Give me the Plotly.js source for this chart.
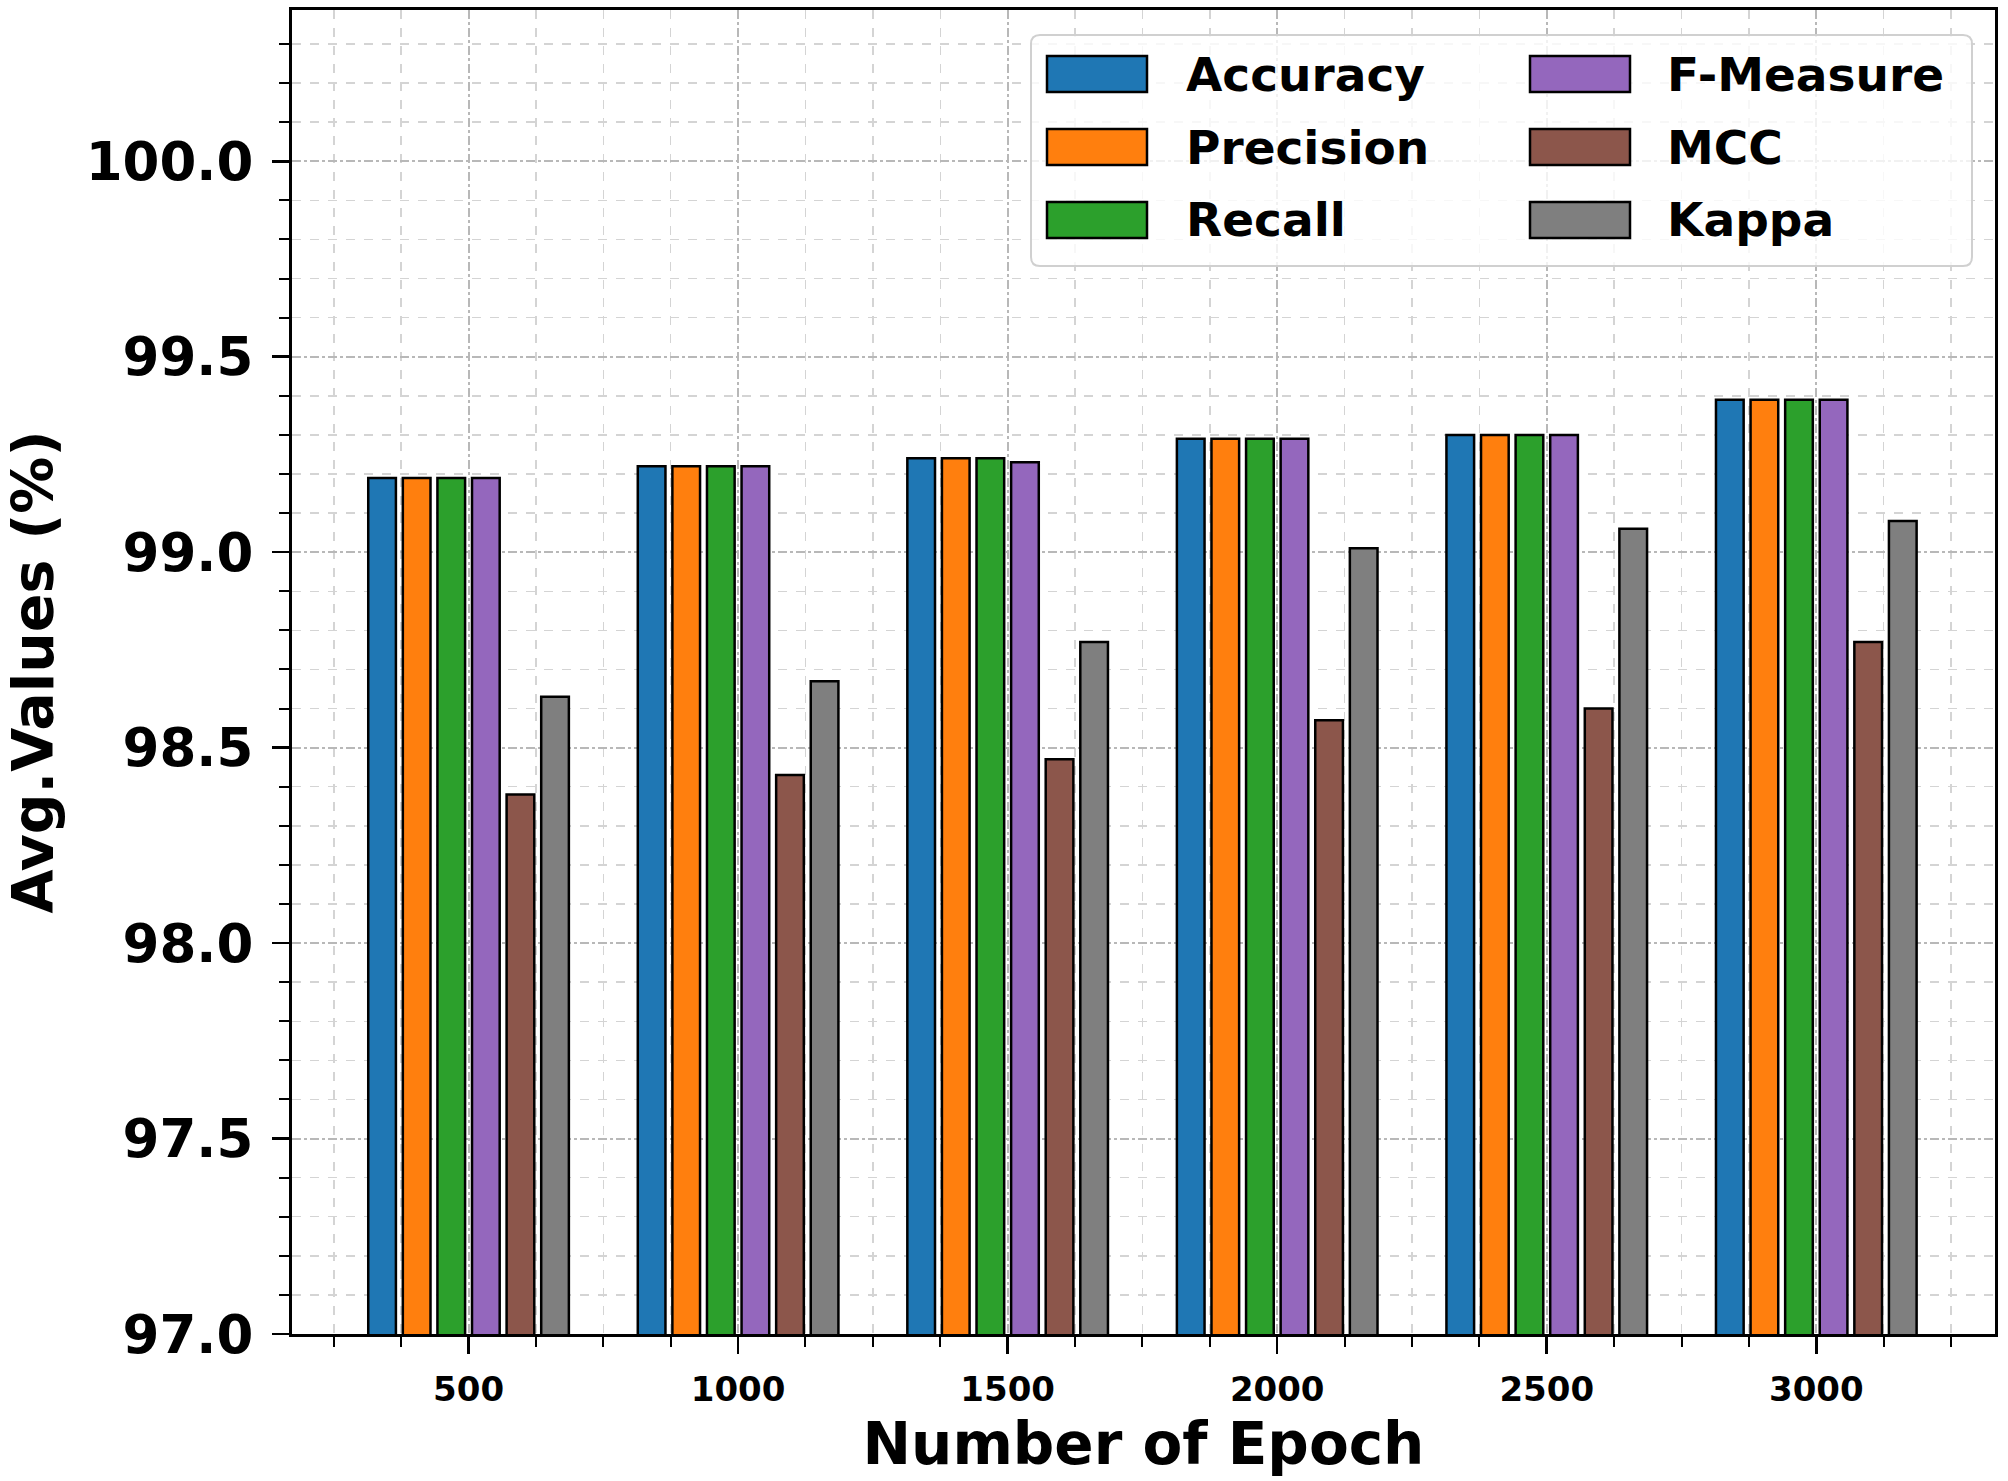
<!DOCTYPE html>
<html>
<head>
<meta charset="utf-8">
<script src="https://cdn.plot.ly/plotly-3.0.1.min.js"></script>
<style>html,body{margin:0;padding:0;background:#fff;}#chart{width:2008px;height:1481px;}</style>
</head>
<body>
<div id="chart"></div>
<script>
// ---- data ----
const epochs = ["500", "1000", "1500", "2000", "2500", "3000"];
const metricNames = ["Accuracy", "Precision", "Recall", "F-Measure", "MCC", "Kappa"];
const accuracy  = [99.19, 99.22, 99.24, 99.29, 99.30, 99.39];
const precision = [99.19, 99.22, 99.24, 99.29, 99.30, 99.39];
const recall    = [99.19, 99.22, 99.24, 99.29, 99.30, 99.39];
const fmeasure  = [99.19, 99.22, 99.23, 99.29, 99.30, 99.39];
const mcc       = [98.38, 98.43, 98.47, 98.57, 98.60, 98.77];
const kappa     = [98.63, 98.67, 98.77, 99.01, 99.06, 99.08];
const colors = ["#1f77b4", "#ff7f0e", "#2ca02c", "#9467bd", "#8c564b", "#7f7f7f"];

const series = [accuracy, precision, recall, fmeasure, mcc, kappa];
const xIdx = epochs.map((_, i) => i);

const traces = series.map((vals, k) => ({
  type: "bar",
  name: metricNames[k],
  x: xIdx,
  y: vals,
  marker: { color: colors[k], line: { color: "#000000", width: 2.5 } },
  showlegend: false,
  hoverinfo: "x+y+name"
}));

// ---- plot-area geometry (pixels) ----
const W = 2008, H = 1481;
const M = { l: 292, r: 13, t: 10, b: 147 };
const pw = W - M.l - M.r, ph = H - M.t - M.b;
const px2x = (px) => (px - M.l) / pw;
const px2y = (py) => (H - M.b - py) / ph;

// ---- custom legend (matplotlib-like, two columns) ----
const shapes = [];
const annotations = [];
{
  const bx0 = 1031, bx1 = 1972, by0 = 35, by1 = 266, r = 9;
  const X0 = px2x(bx0), X1 = px2x(bx1), Y0 = px2y(by1), Y1 = px2y(by0);
  const rx = r / pw, ry = r / ph;
  const path = `M${X0 + rx},${Y1} L${X1 - rx},${Y1} Q${X1},${Y1} ${X1},${Y1 - ry} ` +
               `L${X1},${Y0 + ry} Q${X1},${Y0} ${X1 - rx},${Y0} ` +
               `L${X0 + rx},${Y0} Q${X0},${Y0} ${X0},${Y0 + ry} ` +
               `L${X0},${Y1 - ry} Q${X0},${Y1} ${X0 + rx},${Y1} Z`;
  shapes.push({ type: "path", xref: "paper", yref: "paper", path: path,
    fillcolor: "rgba(255,255,255,0.8)", line: { color: "#d0d0d0", width: 2 }, layer: "above" });

  const colSwatchX = [1047, 1530];
  const colTextX = [1184, 1665];
  const rowY = [74, 147, 220];
  const swW = 100, swH = 36;
  metricNames.forEach((name, k) => {
    const c = Math.floor(k / 3), rr = k % 3;
    const sx = colSwatchX[c], sy = rowY[rr];
    shapes.push({ type: "rect", xref: "paper", yref: "paper",
      x0: px2x(sx), x1: px2x(sx + swW), y0: px2y(sy + swH / 2), y1: px2y(sy - swH / 2),
      fillcolor: colors[k], line: { color: "#000000", width: 2.5 }, layer: "above" });
    annotations.push({ xref: "paper", yref: "paper", x: px2x(colTextX[c]), y: px2y(sy),
      xanchor: "left", yanchor: "middle", showarrow: false, text: name,
      font: { family: "DejaVu Sans", size: 47, weight: "bold", color: "#000000" } });
  });
}

const layout = {
  width: W, height: H,
  margin: M,
  paper_bgcolor: "#ffffff",
  plot_bgcolor: "#ffffff",
  font: { family: "DejaVu Sans", color: "#000000" },
  barmode: "group",
  bargap: 0.23,
  bargroupgap: 0.2,
  showlegend: false,
  xaxis: {
    type: "linear",
    range: [-0.655, 5.663],
    tickmode: "array",
    tickvals: xIdx,
    ticktext: epochs,
    ticks: "outside", ticklen: 17, tickwidth: 2.5, tickcolor: "#000000",
    ticklabelstandoff: 6,
    tickfont: { family: "DejaVu Sans", size: 34, weight: "bold", color: "#000000" },
    showline: true, mirror: true, linecolor: "#000000", linewidth: 3,
    showgrid: true, gridcolor: "#b8b8b8", gridwidth: 2, griddash: "dashdot",
    zeroline: false,
    minor: { tickmode: "linear", tick0: 0, dtick: 0.25, ticks: "outside", ticklen: 10,
             tickwidth: 2, tickcolor: "#000000", showgrid: true, gridcolor: "#d4d4d4",
             gridwidth: 1.5, griddash: "dash" },
    title: { text: "Number of Epoch", standoff: 16,
             font: { family: "DejaVu Sans", size: 58, weight: "bold", color: "#000000" } }
  },
  yaxis: {
    range: [97, 100.387],
    tickmode: "linear", tick0: 97, dtick: 0.5, tickformat: ".1f",
    ticks: "outside", ticklen: 17, tickwidth: 2.5, tickcolor: "#000000",
    ticklabelstandoff: 8,
    tickfont: { family: "DejaVu Sans", size: 53, weight: "bold", color: "#000000" },
    showline: true, mirror: true, linecolor: "#000000", linewidth: 3,
    showgrid: true, gridcolor: "#b8b8b8", gridwidth: 2, griddash: "dashdot",
    zeroline: false,
    minor: { tickmode: "linear", tick0: 97, dtick: 0.1, ticks: "outside", ticklen: 10,
             tickwidth: 2, tickcolor: "#000000", showgrid: true, gridcolor: "#d4d4d4",
             gridwidth: 1.5, griddash: "dash" },
    title: { text: "Avg.Values (%)", standoff: 28,
             font: { family: "DejaVu Sans", size: 57, weight: "bold", color: "#000000" } }
  },
  shapes: shapes,
  annotations: annotations
};

Plotly.newPlot("chart", traces, layout, { displayModeBar: false, staticPlot: true });
</script>
</body>
</html>
